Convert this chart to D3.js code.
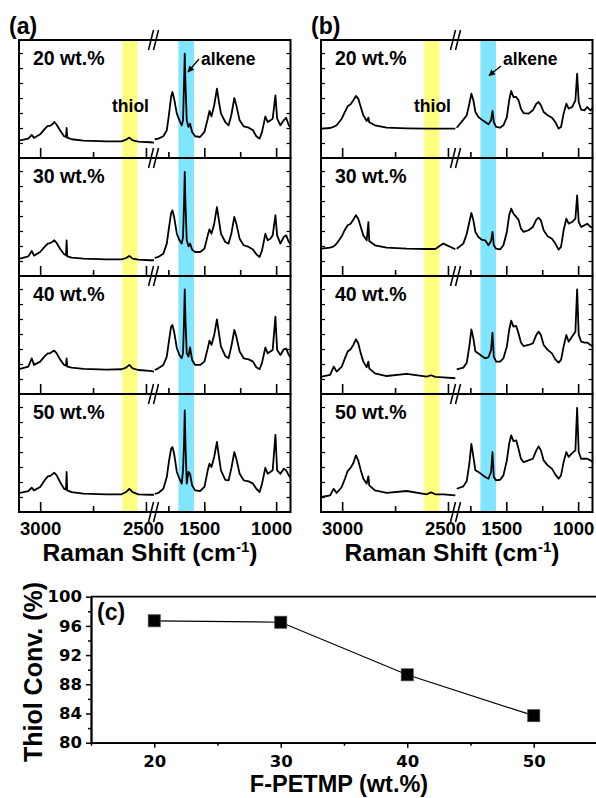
<!DOCTYPE html>
<html>
<head>
<meta charset="utf-8">
<script src="https://cdn.jsdelivr.net/npm/d3@7"></script>
<style>
  body { margin: 0; background: #fff; }
  svg text { font-family: "Liberation Sans", Arial, sans-serif; font-weight: bold; fill: #000; }
</style>
</head>
<body>
<svg id="chart" width="596" height="798"></svg>
<script>
// ---- data ----
const samples = ["20 wt.%", "30 wt.%", "40 wt.%", "50 wt.%"];
const thiolBand = [2612, 2540];
const alkeneBand = [1680, 1572];
const leftTicks = [3000, 2750, 2500];
const rightTicks = [1750, 1500, 1250, 1000];
const labeledTicks = [3000, 2500, 1500, 1000];
const intensityTicks = [1, 2, 3, 4, 5, 6, 7];

// panel (a) wavenumbers (cm-1), both sides of the axis break
const waveALeft = [3095, 3056, 3040, 3029, 3000, 2977, 2964, 2953, 2943, 2933, 2922, 2906, 2887, 2878, 2875, 2872, 2851, 2796, 2686, 2615, 2594, 2579, 2563, 2536, 2481, 2462];
const waveARight = [1845, 1820, 1785, 1761, 1745, 1731, 1722, 1710, 1691, 1673, 1657, 1648, 1641, 1636, 1631, 1622, 1610, 1599, 1585, 1564, 1529, 1499, 1476, 1464, 1450, 1431, 1412, 1398, 1384, 1354, 1331, 1312, 1291, 1277, 1254, 1226, 1191, 1161, 1138, 1115, 1098, 1075, 1059, 1040, 1024, 1005, 993, 970, 947, 930, 912, 900];

const a20Left = [1.18, 1.29, 1.54, 1.34, 1.58, 1.96, 2.14, 2.14, 2.25, 2.40, 2.22, 1.85, 1.45, 1.40, 2.00, 1.36, 1.25, 1.16, 1.11, 1.11, 1.22, 1.36, 1.18, 1.09, 1.05, 1.02];
const a20Right = [1.25, 1.29, 1.45, 1.85, 2.96, 4.07, 4.40, 3.96, 2.96, 2.51, 2.18, 2.51, 4.96, 6.96, 4.96, 2.51, 2.07, 2.29, 1.74, 1.45, 1.40, 1.74, 2.62, 3.14, 2.78, 3.51, 4.62, 3.74, 2.96, 2.40, 2.18, 2.85, 4.00, 3.51, 2.51, 2.11, 2.02, 1.85, 1.45, 1.29, 1.74, 2.78, 2.40, 2.51, 2.62, 4.18, 2.62, 2.18, 2.51, 2.69, 2.18, 2.07];
const a30Left = [1.16, 1.31, 1.67, 1.36, 1.60, 1.98, 2.16, 2.20, 2.27, 2.38, 2.20, 1.82, 1.45, 1.38, 2.38, 1.31, 1.22, 1.16, 1.11, 1.11, 1.20, 1.34, 1.16, 1.09, 1.05, 1.05];
const a30Right = [1.20, 1.27, 1.49, 2.16, 3.27, 4.20, 4.38, 3.94, 2.82, 2.38, 2.16, 2.60, 4.82, 6.94, 4.82, 2.38, 1.98, 2.16, 1.76, 1.60, 1.60, 1.82, 2.71, 3.11, 2.82, 3.49, 4.60, 3.71, 2.82, 2.27, 2.16, 2.82, 3.94, 3.49, 2.49, 2.05, 1.94, 1.76, 1.45, 1.27, 1.71, 2.82, 2.38, 2.49, 2.71, 4.05, 2.71, 2.16, 2.60, 2.71, 2.27, 2.16];
const a40Left = [1.67, 1.83, 2.38, 1.94, 2.16, 2.54, 2.71, 2.71, 2.83, 2.89, 2.71, 2.31, 1.94, 1.89, 2.38, 1.83, 1.76, 1.67, 1.63, 1.65, 1.76, 1.94, 1.71, 1.60, 1.54, 1.49];
const a40Right = [1.60, 1.71, 1.94, 2.49, 3.60, 4.49, 4.60, 4.16, 3.05, 2.60, 2.38, 2.71, 4.94, 6.98, 4.94, 2.71, 2.49, 3.11, 2.27, 1.94, 1.94, 2.16, 3.05, 3.56, 3.27, 3.94, 4.98, 4.05, 3.16, 2.54, 2.38, 3.16, 4.27, 3.83, 2.83, 2.38, 2.31, 2.16, 1.78, 1.65, 2.09, 3.11, 2.71, 2.83, 2.94, 5.16, 2.94, 2.60, 2.98, 3.03, 2.60, 2.45];
const a50Left = [1.27, 1.40, 1.62, 1.44, 1.67, 2.15, 2.38, 2.40, 2.51, 2.62, 2.44, 2.00, 1.55, 1.49, 2.67, 1.44, 1.33, 1.22, 1.18, 1.18, 1.33, 1.55, 1.33, 1.18, 1.15, 1.15];
const a50Right = [1.20, 1.27, 1.55, 2.33, 3.44, 4.22, 4.33, 3.89, 2.67, 2.22, 1.89, 2.78, 4.55, 6.78, 4.55, 1.89, 2.67, 2.55, 1.78, 1.44, 1.40, 1.67, 2.78, 3.22, 3.00, 3.67, 4.67, 3.67, 2.78, 2.15, 2.11, 2.89, 4.00, 3.55, 2.55, 2.11, 2.04, 1.89, 1.55, 1.33, 1.89, 2.95, 2.55, 2.67, 2.78, 5.15, 2.78, 2.55, 2.89, 2.78, 2.44, 2.29];

// panel (b) wavenumbers
const waveBLeft = [3097, 3057, 3040, 3026, 3002, 2987, 2974, 2960, 2947, 2935, 2924, 2912, 2900, 2884, 2876, 2872, 2845, 2790, 2695, 2600, 2580, 2560, 2522, 2465];
const waveBRight = [1845, 1799, 1775, 1757, 1743, 1729, 1715, 1694, 1671, 1647, 1624, 1606, 1596, 1587, 1571, 1543, 1520, 1496, 1480, 1466, 1450, 1431, 1415, 1398, 1380, 1345, 1315, 1291, 1275, 1259, 1240, 1212, 1182, 1159, 1136, 1119, 1101, 1082, 1066, 1042, 1019, 1007, 996, 979, 956, 937, 914, 896];

const b20Left = [1.96, 2.00, 2.08, 2.18, 2.62, 3.07, 3.45, 3.58, 3.85, 4.14, 3.96, 3.40, 2.85, 2.47, 2.69, 2.38, 2.18, 2.02, 1.98, 1.96, 1.96, 1.96, 1.96, 1.96];
const b20Right = [2.02, 2.56, 2.85, 3.62, 4.29, 3.85, 3.07, 2.73, 2.56, 2.40, 2.25, 2.51, 3.14, 2.40, 2.07, 2.02, 2.18, 2.73, 3.85, 4.47, 4.07, 4.07, 3.85, 3.29, 3.00, 2.96, 3.18, 3.62, 3.73, 3.51, 3.07, 2.85, 2.69, 2.40, 1.96, 2.07, 2.96, 3.62, 3.29, 3.40, 3.85, 5.62, 3.73, 3.22, 3.18, 3.40, 3.18, 3.36];
const b30Left = [1.82, 1.89, 1.98, 2.16, 2.65, 3.09, 3.38, 3.49, 3.76, 4.05, 3.82, 3.27, 2.71, 2.38, 3.60, 2.34, 2.05, 1.89, 1.82, 1.80, 1.80, 1.80, 2.16, 1.78];
const b30Right = [1.82, 2.16, 2.82, 3.60, 4.20, 3.71, 2.94, 2.60, 2.42, 2.38, 2.05, 2.34, 2.94, 2.05, 1.82, 1.78, 2.05, 2.94, 4.05, 4.49, 4.16, 3.94, 3.76, 3.16, 2.94, 3.05, 3.27, 3.76, 3.89, 3.71, 3.05, 2.65, 2.49, 2.16, 1.76, 1.94, 3.05, 3.82, 3.49, 3.60, 3.82, 5.38, 3.60, 3.27, 3.38, 3.49, 3.27, 3.22];
const b40Left = [1.16, 1.27, 1.83, 1.49, 1.83, 2.38, 2.83, 2.98, 3.27, 3.65, 3.38, 2.71, 2.16, 1.78, 2.16, 1.71, 1.38, 1.20, 1.34, 1.16, 1.25, 1.14, 1.11, 1.05];
const b40Right = [1.65, 1.76, 2.09, 3.20, 4.31, 3.71, 2.83, 2.71, 2.54, 2.38, 2.45, 2.94, 4.09, 2.49, 2.16, 2.16, 2.38, 3.16, 4.27, 4.89, 4.49, 4.54, 4.05, 3.43, 3.20, 3.27, 3.38, 3.94, 4.16, 3.94, 3.27, 2.94, 2.71, 2.31, 2.09, 2.27, 3.16, 3.94, 3.49, 3.83, 4.16, 6.98, 3.94, 3.49, 3.43, 3.43, 3.27, 3.16];
const b50Left = [1.00, 1.11, 1.55, 1.27, 1.67, 2.22, 2.73, 2.95, 3.27, 3.78, 3.44, 2.78, 2.22, 1.89, 2.38, 1.78, 1.44, 1.27, 1.40, 1.18, 1.31, 1.18, 1.18, 1.11];
const b50Right = [1.55, 1.71, 2.07, 3.22, 4.55, 3.67, 2.78, 2.67, 2.51, 2.33, 2.22, 2.67, 4.00, 2.33, 2.11, 2.15, 2.44, 3.44, 4.55, 5.11, 4.73, 4.78, 4.22, 3.55, 3.33, 3.44, 3.55, 4.11, 4.38, 4.11, 3.44, 3.11, 2.89, 2.51, 2.22, 2.44, 3.33, 4.00, 3.67, 3.93, 4.11, 6.95, 4.00, 3.55, 3.55, 3.55, 3.44, 3.33];

// panel (c)
const fpetmp = [20, 30, 40, 50];
const thiolConv = [96.7, 96.5, 89.3, 83.7];
const convTicks = [80, 84, 88, 92, 96, 100];
const convMinor = [82, 86, 90, 94, 98];
const wtTicks = [20, 30, 40, 50];
const wtMinor = [15, 25, 35, 45, 55];

// ---- layout ----
const svg = d3.select("#chart");
const top0 = 40, subH = 118;
const frameL = 19, frameR = 290.5, breakX = 154;
// tick labels sit a little left of their ticks in the original
const labelShift = { 3000: 0, 2500: -3, 1500: -5, 1000: -5 };

svg.append("defs").append("marker")
    .attr("id", "arrow")
    .attr("viewBox", "0 0 10 10")
    .attr("refX", 9).attr("refY", 5)
    .attr("markerWidth", 5).attr("markerHeight", 5)
    .attr("orient", "auto")
  .append("path").attr("d", "M0,0L10,5L0,10z").attr("fill", "#000");

const panels = [
    { tag: "(a)", dx: 0, wl: waveALeft, wr: waveARight,
      spectra: [[a20Left, a20Right], [a30Left, a30Right], [a40Left, a40Right], [a50Left, a50Right]],
      arrow: [[199, 59], [188, 72]] },
    { tag: "(b)", dx: 302, wl: waveBLeft, wr: waveBRight,
      spectra: [[b20Left, b20Right], [b30Left, b30Right], [b40Left, b40Right], [b50Left, b50Right]],
      arrow: [[199, 66], [187, 75.5]] }
];

panels.forEach(p => {
    const g = svg.append("g").attr("transform", "translate(" + p.dx + ",0)");
    const xl = d3.scaleLinear().domain([3100, 2462]).range([frameL, breakX]);
    const xr = d3.scaleLinear().domain([1850, 900]).range([breakX, frameR]);

    // shaded bands
    g.append("rect")
        .attr("x", xl(thiolBand[0])).attr("width", xl(thiolBand[1]) - xl(thiolBand[0]))
        .attr("y", top0).attr("height", subH * 4)
        .attr("fill", "#ffff80");
    g.append("rect")
        .attr("x", xr(alkeneBand[0])).attr("width", xr(alkeneBand[1]) - xr(alkeneBand[0]))
        .attr("y", top0).attr("height", subH * 4)
        .attr("fill", "#80e5ff");

    p.spectra.forEach((s, i) => {
        const t = top0 + i * subH;
        const bottom = t + subH;
        const y = d3.scaleLinear().domain([0, 7.87]).range([bottom, t]);

        // spectrum, drawn in two pieces around the break
        g.append("path")
            .datum(d3.zip(p.wl, s[0]))
            .attr("d", d3.line().x(d => xl(d[0])).y(d => y(d[1])))
            .attr("fill", "none").attr("stroke", "#000")
            .attr("stroke-width", 1.8).attr("stroke-linejoin", "round");
        g.append("path")
            .datum(d3.zip(p.wr, s[1]))
            .attr("d", d3.line().x(d => xr(d[0])).y(d => y(d[1])))
            .attr("fill", "none").attr("stroke", "#000")
            .attr("stroke-width", 1.8).attr("stroke-linejoin", "round");

        g.append("rect")
            .attr("x", frameL).attr("y", t)
            .attr("width", frameR - frameL).attr("height", subH)
            .attr("fill", "none").attr("stroke", "#000").attr("stroke-width", 2);

        // small inward ticks on both sides
        g.append("g").attr("transform", "translate(" + frameL + ",0)")
            .call(d3.axisLeft(y).tickValues(intensityTicks).tickSizeInner(-4).tickSizeOuter(0).tickFormat(""))
            .call(a => a.select(".domain").remove())
            .selectAll("line").attr("stroke-width", 1.2);
        g.append("g").attr("transform", "translate(" + frameR + ",0)")
            .call(d3.axisRight(y).tickValues(intensityTicks).tickSizeInner(-4).tickSizeOuter(0).tickFormat(""))
            .call(a => a.select(".domain").remove())
            .selectAll("line").attr("stroke-width", 1.2);

        // wavenumber ticks, labels only on the bottom plot
        const last = i === 3;
        [[xl, leftTicks], [xr, rightTicks]].forEach(([sc, vals]) => {
            const ax = g.append("g").attr("transform", "translate(0," + bottom + ")")
                .call(d3.axisBottom(sc).tickValues(vals).tickSizeInner(-10).tickSizeOuter(0).tickPadding(10)
                    .tickFormat(v => last && labeledTicks.includes(v) ? v : ""));
            ax.select(".domain").remove();
            ax.selectAll(".tick line")
                .attr("y2", v => labeledTicks.includes(v) ? -10 : -6)
                .attr("stroke-width", 1.6);
            ax.selectAll("text")
                .attr("dx", v => labelShift[v] || 0)
                .style("font-size", "18.5px");
        });

        g.append("text").attr("x", 33).attr("y", t + 25)
            .style("font-size", "19.5px").text(samples[i]);
    });

    // axis-break marks
    [0, 1, 2, 3, 4].forEach(k => {
        const yy = top0 + k * subH;
        [-5.5, -0.5].forEach(off => {
            g.append("line")
                .attr("x1", breakX + off).attr("y1", yy + 10)
                .attr("x2", breakX + off + 5).attr("y2", yy - 10)
                .attr("stroke", "#000").attr("stroke-width", 1.6);
        });
    });

    g.append("text").attr("x", 112).attr("y", 112).style("font-size", "17.5px").text("thiol");
    g.append("text").attr("x", 201).attr("y", 65).style("font-size", "17.5px").text("alkene");
    g.append("line")
        .attr("x1", p.arrow[0][0]).attr("y1", p.arrow[0][1])
        .attr("x2", p.arrow[1][0]).attr("y2", p.arrow[1][1])
        .attr("stroke", "#000").attr("stroke-width", 1.3)
        .attr("marker-end", "url(#arrow)");

    g.append("text").attr("x", 9).attr("y", 34).style("font-size", "23px").text(p.tag);

    const title = g.append("text").attr("x", 150).attr("y", 561)
        .attr("text-anchor", "middle").style("font-size", "24.5px");
    title.append("tspan").text("Raman Shift (cm");
    title.append("tspan").attr("dy", -9).style("font-size", "15px").text("-1");
    title.append("tspan").attr("dy", 9).text(")");
});

// ---- panel (c) ----
const xC = d3.scaleLinear().domain([15, 55]).range([91, 597]);
const yC = d3.scaleLinear().domain([80, 100]).range([742.7, 596.7]);
const gc = svg.append("g");

gc.append("line")
    .attr("x1", xC(15)).attr("x2", xC(55)).attr("y1", yC(100)).attr("y2", yC(100))
    .attr("stroke", "#000").attr("stroke-width", 1.8);

function styleAxis(a) {
    a.select(".domain").attr("stroke-width", 1.8);
    a.selectAll(".tick line").attr("stroke-width", 1.5);
    a.selectAll("text")
        .style("font-family", "'DejaVu Sans', 'Liberation Sans', sans-serif")
        .style("font-size", "16.5px");
}

gc.append("g").attr("transform", "translate(0," + yC(80) + ")")
    .call(d3.axisBottom(xC).tickValues(wtTicks).tickSizeInner(5).tickSizeOuter(0).tickPadding(8))
    .call(styleAxis);
gc.append("g").attr("transform", "translate(0," + yC(80) + ")")
    .call(d3.axisBottom(xC).tickValues(wtMinor).tickSizeInner(3).tickSizeOuter(0).tickFormat(""))
    .call(styleAxis);
gc.append("g").attr("transform", "translate(" + xC(15) + ",0)")
    .call(d3.axisLeft(yC).tickValues(convTicks).tickSizeInner(5).tickSizeOuter(0).tickPadding(4))
    .call(styleAxis);
gc.append("g").attr("transform", "translate(" + xC(15) + ",0)")
    .call(d3.axisLeft(yC).tickValues(convMinor).tickSizeInner(3).tickSizeOuter(0).tickFormat(""))
    .call(styleAxis);

const conv = d3.zip(fpetmp, thiolConv);
gc.append("path").datum(conv)
    .attr("d", d3.line().x(d => xC(d[0])).y(d => yC(d[1])))
    .attr("fill", "none").attr("stroke", "#000").attr("stroke-width", 1.2);
gc.selectAll("rect.pt").data(conv).enter().append("rect")
    .attr("class", "pt")
    .attr("x", d => xC(d[0]) - 6).attr("y", d => yC(d[1]) - 6)
    .attr("width", 12).attr("height", 12)
    .attr("fill", "#000").attr("stroke", "#444").attr("stroke-width", 0.8);

gc.append("text").attr("x", 97).attr("y", 620).style("font-size", "23px").text("(c)");
gc.append("text").attr("x", 339).attr("y", 792).attr("text-anchor", "middle")
    .style("font-size", "23.5px").text("F-PETMP (wt.%)");
gc.append("text").attr("transform", "translate(42,672) rotate(-90)")
    .attr("text-anchor", "middle").style("font-size", "25px").text("Thiol Conv. (%)");
</script>
</body>
</html>
